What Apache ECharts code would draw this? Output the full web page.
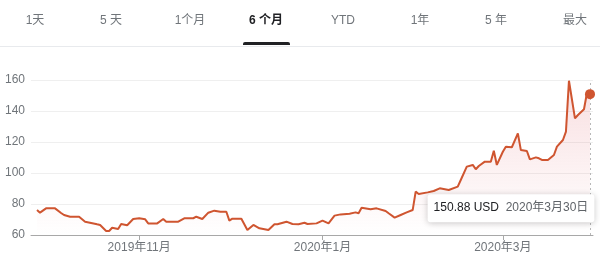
<!DOCTYPE html>
<html>
<head>
<meta charset="utf-8">
<script src="https://cdn.jsdelivr.net/npm/echarts@6/dist/echarts.min.js"></script>
<style>
html,body{margin:0;padding:0;background:#fff;}
#chart{width:600px;height:272px;}
</style>
</head>
<body>
<div id="chart"></div>
<script>
// ---- data ----
const dates = [
  '2019-09-28','2019-09-29','2019-10-01','2019-10-04','2019-10-06','2019-10-07','2019-10-09','2019-10-12',
  '2019-10-14','2019-10-18','2019-10-19','2019-10-21','2019-10-22','2019-10-23','2019-10-25','2019-10-26',
  '2019-10-28','2019-10-30','2019-11-01','2019-11-03','2019-11-04','2019-11-07','2019-11-09','2019-11-10',
  '2019-11-14','2019-11-16','2019-11-19','2019-11-20','2019-11-22','2019-11-24','2019-11-26','2019-11-28',
  '2019-11-30','2019-12-01','2019-12-02','2019-12-05','2019-12-07','2019-12-09','2019-12-11','2019-12-14',
  '2019-12-16','2019-12-17','2019-12-20','2019-12-22','2019-12-24','2019-12-26','2019-12-27','2019-12-30',
  '2020-01-01','2020-01-03','2020-01-05','2020-01-07','2020-01-10','2020-01-12','2020-01-13','2020-01-14',
  '2020-01-17','2020-01-19','2020-01-22','2020-01-23','2020-01-25','2020-01-27','2020-01-29','2020-01-31',
  '2020-02-01','2020-02-02','2020-02-05','2020-02-07','2020-02-09','2020-02-12','2020-02-15','2020-02-16',
  '2020-02-18','2020-02-20','2020-02-21','2020-02-22','2020-02-24','2020-02-26','2020-02-27','2020-02-28',
  '2020-03-01','2020-03-02','2020-03-04','2020-03-06','2020-03-07','2020-03-09','2020-03-10','2020-03-12',
  '2020-03-13','2020-03-14','2020-03-16','2020-03-18','2020-03-19','2020-03-21','2020-03-22','2020-03-23',
  '2020-03-25','2020-03-26','2020-03-28','2020-03-29','2020-03-30'
];
const prices = [
  76.1, 74.4, 77.2, 77.2, 74.2, 72.9, 71.8, 71.8,
  68.6, 66.9, 66.5, 62.6, 62.6, 64.7, 63.9, 67.1,
  66.3, 70.3, 70.8, 70.1, 67.5, 67.5, 70.3, 68.6,
  68.6, 70.8, 70.8, 71.8, 70.3, 74.4, 75.7, 75.0,
  75.0, 69.3, 70.5, 70.5, 63.2, 66.5, 64.3, 63.2,
  66.9, 66.9, 68.6, 67.1, 66.9, 67.9, 67.1, 67.5,
  69.3, 67.5, 72.5, 73.3, 73.7, 74.6, 74.0, 77.6,
  76.6, 77.2, 75.5, 74.0, 71.2, 72.9, 74.6, 76.1,
  88.0, 86.5, 87.5, 88.4, 90.1, 89.0, 91.2, 95.5,
  104.1, 105.2, 102.4, 104.5, 107.3, 107.3, 114.4, 105.2,
  113.7, 117.0, 116.6, 125.6, 114.8, 114.2, 108.8, 110.1,
  109.5, 108.4, 108.4, 111.6, 117.0, 121.3, 126.7, 159.5,
  135.3, 137.4, 141.1, 151.8, 150.88
];
const currency = 'USD';
const xTickDates = ['2019-11-01', '2020-01-01', '2020-03-01'];
const yTicks = [60, 80, 100, 120, 140, 160];
const tabs = ['1天', '5 天', '1个月', '6 个月', 'YTD', '1年', '5 年', '最大'];
const activeTab = 3;
const xRange = ['2019-09-26', '2020-03-31'];

// ---- helpers ----
function parseLocal(s) {
  const p = s.split('-').map(Number);
  return new Date(p[0], p[1] - 1, p[2]).getTime();
}
function fmtMonth(v) {
  const d = new Date(v);
  return d.getFullYear() + '年' + (d.getMonth() + 1) + '月';
}
function fmtDay(s) {
  const d = new Date(parseLocal(s));
  return d.getFullYear() + '年' + (d.getMonth() + 1) + '月' + d.getDate() + '日';
}

const FONT = 'Arial, "Liberation Sans", "Noto Sans CJK SC", sans-serif';
const LINE = '#cf5530';
const seriesData = dates.map((d, i) => [parseLocal(d), prices[i]]);
const last = seriesData[seriesData.length - 1];
const lastDate = dates[dates.length - 1];
const tickVals = xTickDates.map(parseLocal);

const tabCenters = [35, 111, 190, 266, 343, 420, 496, 575];
const graphics = tabs.map((t, i) => ({
  type: 'text',
  x: tabCenters[i],
  y: 21,
  style: {
    text: t,
    fill: i === activeTab ? '#202124' : '#70757a',
    font: (i === activeTab ? 'bold ' : '') + '12px ' + FONT,
    align: 'center',
    verticalAlign: 'middle'
  }
}));
graphics.push({
  type: 'rect', shape: { x: 0, y: 46, width: 600, height: 1 },
  style: { fill: '#e8eaed' }
});
graphics.push({
  type: 'rect', shape: { x: 243, y: 42, width: 47, height: 3, r: [2, 2, 0, 0] },
  style: { fill: '#202124' }
});

const chart = echarts.init(document.getElementById('chart'), null, { renderer: 'canvas' });
chart.setOption({
  animation: false,
  textStyle: { fontFamily: FONT },
  graphic: graphics,
  grid: { left: 31, right: 7, top: 80, bottom: 37, containLabel: false },
  xAxis: {
    type: 'value',
    min: parseLocal(xRange[0]),
    max: parseLocal(xRange[1]),
    axisLine: { show: true, lineStyle: { color: '#a8a8a8', width: 1 } },
    axisTick: { show: true, length: 5, lineStyle: { color: '#a8a8a8' }, customValues: tickVals },
    axisLabel: {
      color: '#70757a', fontSize: 12, margin: 7, fontFamily: FONT,
      customValues: tickVals,
      formatter: v => fmtMonth(v)
    },
    splitLine: { show: false }
  },
  yAxis: {
    type: 'value',
    min: yTicks[0],
    max: yTicks[yTicks.length - 1],
    interval: 20,
    axisLine: { show: false },
    axisTick: { show: false },
    axisLabel: { color: '#70757a', fontSize: 12, margin: 6, fontFamily: FONT },
    splitLine: { lineStyle: { color: '#efefef', width: 1 } }
  },
  series: [{
    type: 'line',
    data: seriesData,
    symbol: 'none',
    smooth: false,
    lineStyle: { color: LINE, width: 2 },
    areaStyle: {
      color: {
        type: 'linear', x: 0, y: 0, x2: 0, y2: 1,
        colorStops: [
          { offset: 0, color: 'rgba(220,90,100,0.28)' },
          { offset: 1, color: 'rgba(220,90,100,0.0)' }
        ]
      }
    },
    markLine: {
      silent: true,
      symbol: ['none', 'none'],
      label: { show: false },
      lineStyle: { color: '#b8b8b8', type: [2, 3], width: 1 },
      data: [{ xAxis: last[0] }]
    },
    markPoint: {
      symbol: 'circle',
      symbolSize: 10,
      itemStyle: { color: LINE },
      data: [{ coord: last, value: last[1] }],
      label: {
        show: true,
        position: 'inside',
        offset: [-79, 114],
        formatter: () => '{v|' + last[1].toFixed(2) + ' ' + currency + '}  {d|' + fmtDay(lastDate) + '}',
        backgroundColor: '#ffffff',
        borderRadius: 3,
        padding: [8, 6, 8, 6],
        shadowBlur: 6,
        shadowColor: 'rgba(0,0,0,0.22)',
        shadowOffsetY: 1,
        rich: {
          v: { fontSize: 12, fontWeight: 'normal', color: '#202124', fontFamily: FONT },
          d: { fontSize: 12, color: '#5f6368', fontFamily: FONT }
        }
      }
    }
  }]
});
</script>
</body>
</html>
